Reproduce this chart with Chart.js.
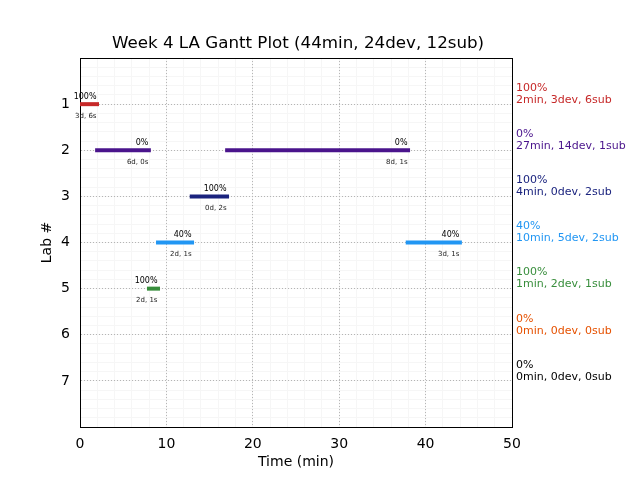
<!DOCTYPE html>
<html>
<head>
<meta charset="utf-8">
<script src="https://cdn.jsdelivr.net/npm/chart.js@4/dist/chart.umd.min.js"></script>
<style>
body { margin: 0; background: #fff; }
#wrap { width: 640px; height: 480px; }
</style>
</head>
<body>
<div id="wrap"><canvas id="gantt" width="640" height="480"></canvas></div>
<script>
// one entry per bar segment
var segLab = [1, 2, 2, 3, 4, 4, 5];
var segStart = [0, 1.75, 16.8, 12.7, 8.8, 37.7, 7.75];
var segEnd = [2.2, 8.2, 38.2, 17.25, 13.2, 44.2, 9.26];
var segPct = ['100%', '0%', '0%', '100%', '40%', '40%', '100%'];
var segInfo = ['3d, 6s', '6d, 0s', '8d, 1s', '0d, 2s', '2d, 1s', '3d, 1s', '2d, 1s'];

// one entry per lab
var labs = [1, 2, 3, 4, 5, 6, 7];
var labColors = ['#c62828', '#4a148c', '#1a237e', '#2196f3', '#388e3c', '#e65100', '#000000'];
var labPct = ['100%', '0%', '100%', '40%', '100%', '0%', '0%'];
var labSummary = ['2min, 3dev, 6sub', '27min, 14dev, 1sub', '4min, 0dev, 2sub', '10min, 5dev, 2sub',
                  '1min, 2dev, 1sub', '0min, 0dev, 0sub', '0min, 0dev, 0sub'];

var xTicks = [0, 10, 20, 30, 40, 50];

Chart.defaults.font.family = "'DejaVu Sans', sans-serif";
Chart.defaults.color = '#000';

var datasets = [];
for (var i = 0; i < segLab.length; i++) {
    datasets.push({
        data: [{x: segStart[i], y: segLab[i]}, {x: segEnd[i], y: segLab[i]}],
        borderColor: labColors[segLab[i] - 1],
        borderWidth: 4,
        borderCapStyle: 'butt',
        pointRadius: 0,
        fill: false
    });
}

var labelPlugin = {
    id: 'ganttLabels',
    afterDatasetsDraw: function(chart){
        var ctx = chart.ctx;
        var xs = chart.scales.x;
        var ys = chart.scales.y;
        var area = chart.chartArea;
        ctx.save();
        ctx.textBaseline = 'middle';
        ctx.textAlign = 'right';
        for (var i = 0; i < segLab.length; i++) {
            var px = xs.getPixelForValue(segEnd[i]) - 2.5;
            var py = ys.getPixelForValue(segLab[i]);
            ctx.fillStyle = '#000';
            ctx.font = "8px 'DejaVu Sans'";
            ctx.fillText(segPct[i], px, py - 7.5);
            ctx.fillStyle = '#222';
            ctx.font = "7px 'DejaVu Sans'";
            ctx.fillText(segInfo[i], px, py + 12);
        }
        ctx.textAlign = 'left';
        ctx.font = "11px 'DejaVu Sans'";
        for (var j = 0; j < labs.length; j++) {
            var ly = ys.getPixelForValue(labs[j]);
            ctx.fillStyle = labColors[j];
            ctx.fillText(labPct[j], area.right + 4, ly - 16);
            ctx.fillText(labSummary[j], area.right + 4, ly - 4);
        }
        ctx.restore();
    }
};

new Chart(document.getElementById('gantt'), {
    type: 'line',
    data: { datasets: datasets },
    plugins: [labelPlugin],
    options: {
        responsive: false,
        animation: false,
        layout: { padding: { top: 0, right: 44, bottom: 0, left: 0 } },
        plugins: {
            legend: { display: false },
            tooltip: { enabled: false },
            title: {
                display: true,
                text: 'Week 4 LA Gantt Plot (44min, 24dev, 12sub)',
                color: '#000',
                font: { size: 16.7, weight: 'normal' },
                padding: { top: 34, bottom: 4 }
            }
        },
        scales: {
            x: {
                type: 'linear',
                position: 'bottom',
                min: 0, max: 50,
                afterBuildTicks: function(s){ s.ticks = xTicks.map(function(v){ return {value: v}; }); },
                afterFit: function(s){ s.height = 53; },
                ticks: { padding: 9, font: { size: 14 }, color: '#000' },
                grid: { color: '#b4b4b4', drawTicks: false, lineWidth: 1, z: -1 },
                border: { display: true, color: '#000', width: 1, dash: [1, 2] },
                title: { display: true, text: 'Time (min)', font: { size: 14 }, color: '#000', padding: { top: 4, bottom: 9 } }
            },
            xMinor: {
                type: 'linear',
                position: 'top',
                min: 0, max: 50,
                afterFit: function(s){ s.height = 0; },
                ticks: { display: false, stepSize: 2 },
                grid: { color: '#f6f6f6', drawTicks: false, z: -2 },
                border: { display: true, color: '#000', width: 1 }
            },
            y: {
                type: 'linear',
                position: 'left',
                reverse: true,
                min: 0, max: 8,
                afterBuildTicks: function(s){ s.ticks = labs.map(function(v){ return {value: v}; }); },
                afterFit: function(s){ s.width = 80; },
                ticks: { padding: 10, font: { size: 14 }, color: '#000' },
                grid: { color: '#b4b4b4', drawTicks: false, lineWidth: 1, z: -1 },
                border: { display: true, color: '#000', width: 1, dash: [1, 2] },
                title: { display: true, text: 'Lab #', font: { size: 14 }, color: '#000', padding: { top: 39, bottom: 0 } }
            },
            yMinor: {
                type: 'linear',
                position: 'right',
                reverse: true,
                min: 0, max: 8,
                afterFit: function(s){ s.width = 84; },
                ticks: { display: false, stepSize: 0.2 },
                grid: { color: '#f6f6f6', drawTicks: false, z: -2 },
                border: { display: true, color: '#000', width: 1 }
            }
        }
    }
});
</script>
</body>
</html>
